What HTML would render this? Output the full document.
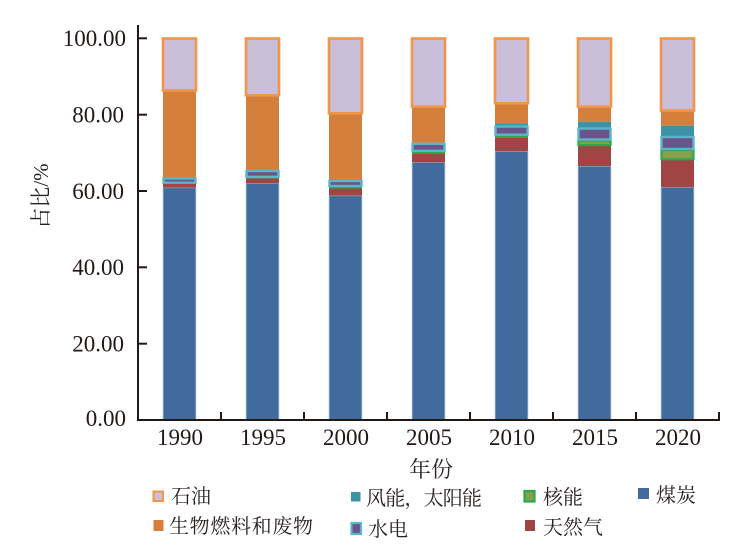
<!DOCTYPE html>
<html>
<head>
<meta charset="utf-8">
<style>
  html,body{margin:0;padding:0;background:#fff;}
  svg{display:block;}
  .t{font-family:"Liberation Serif","Noto Serif CJK SC",serif;fill:#231815;}
  .c{font-family:"Liberation Serif","Noto Serif CJK SC","Noto Sans CJK SC",serif;fill:#2a2220;}
</style>
</head>
<body>
<svg width="751" height="551" viewBox="0 0 751 551" xmlns="http://www.w3.org/2000/svg">
  <rect width="751" height="551" fill="#fff"/>

  <!-- 1990 -->
  <g>
    <rect x="163" y="187.7" width="33" height="232.3" fill="#416B9C" stroke="#C3D3E6" stroke-width="0.8"/>
    <rect x="163" y="183.3" width="33" height="4.4" fill="#A04444"/>
    <rect x="163" y="90.7" width="33" height="87" fill="#D4803C"/>
    <rect x="163.5" y="178.5" width="32" height="4.2" fill="#6B5489" stroke="#5BB5CC" stroke-width="2.4"/>
    <rect x="163" y="38.5" width="33" height="52" fill="#CBBED8" stroke="#F0954A" stroke-width="2.6"/>
  </g>
  <!-- 1995 -->
  <g>
    <rect x="246" y="183.3" width="33" height="236.7" fill="#416B9C" stroke="#C3D3E6" stroke-width="0.8"/>
    <rect x="246" y="178.3" width="33" height="5" fill="#A04444"/>
    <rect x="246" y="176.8" width="33" height="1.8" fill="#2BA84A"/>
    <rect x="246" y="95.3" width="33" height="74.7" fill="#D4803C"/>
    <rect x="246.5" y="171" width="32" height="5.8" fill="#6B5489" stroke="#5BB5CC" stroke-width="2.4"/>
    <rect x="246" y="38.5" width="33" height="56.8" fill="#CBBED8" stroke="#F0954A" stroke-width="2.6"/>
  </g>
  <!-- 2000 -->
  <g>
    <rect x="329" y="195.7" width="33" height="224.3" fill="#416B9C" stroke="#C3D3E6" stroke-width="0.8"/>
    <rect x="329" y="188.3" width="33" height="7.4" fill="#A04444"/>
    <rect x="329" y="186.2" width="33" height="2.3" fill="#2BA84A"/>
    <rect x="329" y="113.3" width="33" height="66.7" fill="#D4803C"/>
    <rect x="329.5" y="181" width="32" height="5" fill="#6B5489" stroke="#5BB5CC" stroke-width="2.4"/>
    <rect x="329" y="38.5" width="33" height="74.8" fill="#CBBED8" stroke="#F0954A" stroke-width="2.6"/>
  </g>
  <!-- 2005 -->
  <g>
    <rect x="412" y="162.3" width="33" height="257.7" fill="#416B9C" stroke="#C3D3E6" stroke-width="0.8"/>
    <rect x="412" y="154" width="33" height="8.3" fill="#A04444"/>
    <rect x="412" y="151.5" width="33" height="2.6" fill="#2BA84A"/>
    <rect x="412" y="106.7" width="33" height="36" fill="#D4803C"/>
    <rect x="412.5" y="143.8" width="32" height="7" fill="#6B5489" stroke="#5BB5CC" stroke-width="2.4"/>
    <rect x="412" y="38.5" width="33" height="68.2" fill="#CBBED8" stroke="#F0954A" stroke-width="2.6"/>
  </g>
  <!-- 2010 -->
  <g>
    <rect x="495" y="151" width="33" height="269" fill="#416B9C" stroke="#C3D3E6" stroke-width="0.8"/>
    <rect x="495" y="137.7" width="33" height="13.3" fill="#A04444"/>
    <rect x="495" y="135.5" width="33" height="2.4" fill="#2BA84A"/>
    <rect x="495" y="103.3" width="33" height="20" fill="#D4803C"/>
    <rect x="495" y="123.3" width="33" height="3.5" fill="#3E92A6"/>
    <rect x="495.5" y="126.5" width="32" height="8.2" fill="#6B5489" stroke="#5BB5CC" stroke-width="2.4"/>
    <rect x="495" y="38.5" width="33" height="64.8" fill="#CBBED8" stroke="#F0954A" stroke-width="2.6"/>
  </g>
  <!-- 2015 -->
  <g>
    <rect x="578" y="166" width="33" height="254" fill="#416B9C" stroke="#C3D3E6" stroke-width="0.8"/>
    <rect x="578" y="145.7" width="33" height="20.3" fill="#A04444"/>
    <rect x="578.5" y="140.5" width="32" height="4.6" fill="#87A04E" stroke="#2BA84A" stroke-width="2.2"/>
    <rect x="578" y="106.7" width="33" height="15" fill="#D4803C"/>
    <rect x="578" y="121.7" width="33" height="6.5" fill="#3E92A6"/>
    <rect x="578.5" y="128.5" width="32" height="11" fill="#6B5489" stroke="#5BB5CC" stroke-width="2.4"/>
    <rect x="578" y="38.5" width="33" height="68.2" fill="#CBBED8" stroke="#F0954A" stroke-width="2.6"/>
  </g>
  <!-- 2020 -->
  <g>
    <rect x="661" y="187.3" width="33" height="232.7" fill="#416B9C" stroke="#C3D3E6" stroke-width="0.8"/>
    <rect x="661" y="160" width="33" height="27.3" fill="#A04444"/>
    <rect x="661.5" y="150" width="32" height="9.3" fill="#87A04E" stroke="#2BA84A" stroke-width="2.2"/>
    <rect x="661" y="111" width="33" height="14.7" fill="#D4803C"/>
    <rect x="661" y="125.7" width="33" height="10.5" fill="#3E92A6"/>
    <rect x="661.5" y="137" width="32" height="12" fill="#6B5489" stroke="#5BB5CC" stroke-width="2.4"/>
    <rect x="661" y="38.5" width="33" height="72" fill="#CBBED8" stroke="#F0954A" stroke-width="2.6"/>
  </g>

  <!-- Axes -->
  <g stroke="#231815" stroke-width="2" fill="none">
    <line x1="138" y1="25" x2="138" y2="421"/>
    <line x1="137" y1="420" x2="720" y2="420"/>
    <line x1="138" y1="38.3" x2="147" y2="38.3"/>
    <line x1="138" y1="114.7" x2="147" y2="114.7"/>
    <line x1="138" y1="191" x2="147" y2="191"/>
    <line x1="138" y1="267.3" x2="147" y2="267.3"/>
    <line x1="138" y1="343.7" x2="147" y2="343.7"/>
    <line x1="221" y1="420" x2="221" y2="412"/>
    <line x1="304" y1="420" x2="304" y2="412"/>
    <line x1="387" y1="420" x2="387" y2="412"/>
    <line x1="470" y1="420" x2="470" y2="412"/>
    <line x1="553" y1="420" x2="553" y2="412"/>
    <line x1="636" y1="420" x2="636" y2="412"/>
    <line x1="719" y1="420" x2="719" y2="412"/>
  </g>

  <g class="t" font-size="23" text-anchor="end">
    <text x="126" y="46">100.00</text>
    <text x="124" y="122.5">80.00</text>
    <text x="124" y="199">60.00</text>
    <text x="124" y="275">40.00</text>
    <text x="124" y="351.5">20.00</text>
    <text x="126" y="426">0.00</text>
  </g>

  <g class="t" font-size="23" text-anchor="middle">
    <text x="180" y="445">1990</text>
    <text x="263" y="445">1995</text>
    <text x="346" y="445">2000</text>
    <text x="429" y="445">2005</text>
    <text x="512" y="445">2010</text>
    <text x="595" y="445">2015</text>
    <text x="678" y="445">2020</text>
  </g>

  <text class="c" x="431" y="477" font-size="22" text-anchor="middle">年份</text>
  <text class="c" font-size="21" text-anchor="middle" transform="translate(48,196) rotate(-90)">占比/%</text>

  <rect x="153.5" y="491.5" width="9.5" height="9.5" fill="#CBBED8" stroke="#F0954A" stroke-width="2"/>
  <text class="c" x="171" y="503" font-size="20">石油</text>

  <rect x="351" y="492" width="9.5" height="9.5" fill="#3E92A6"/>
  <text class="c" x="366" y="505" font-size="20" textLength="116" lengthAdjust="spacing">风能，太阳能</text>

  <rect x="524.5" y="491" width="10" height="10.5" fill="#87A04E" stroke="#2BA84A" stroke-width="2.2"/>
  <text class="c" x="543" y="504" font-size="20">核能</text>

  <rect x="638" y="488" width="11" height="11" fill="#416B9C"/>
  <text class="c" x="656" y="502" font-size="20">煤炭</text>

  <rect x="153.5" y="520" width="10" height="11" fill="#D4803C"/>
  <text class="c" x="169" y="533" font-size="20" textLength="144" lengthAdjust="spacing">生物燃料和废物</text>

  <rect x="351.5" y="523" width="9.5" height="11" fill="#6B5489" stroke="#5BB5CC" stroke-width="2.2"/>
  <text class="c" x="368" y="536" font-size="20">水电</text>

  <rect x="525" y="520" width="10" height="11" fill="#A04444"/>
  <text class="c" x="543" y="534" font-size="20">天然气</text>
</svg>
</body>
</html>
